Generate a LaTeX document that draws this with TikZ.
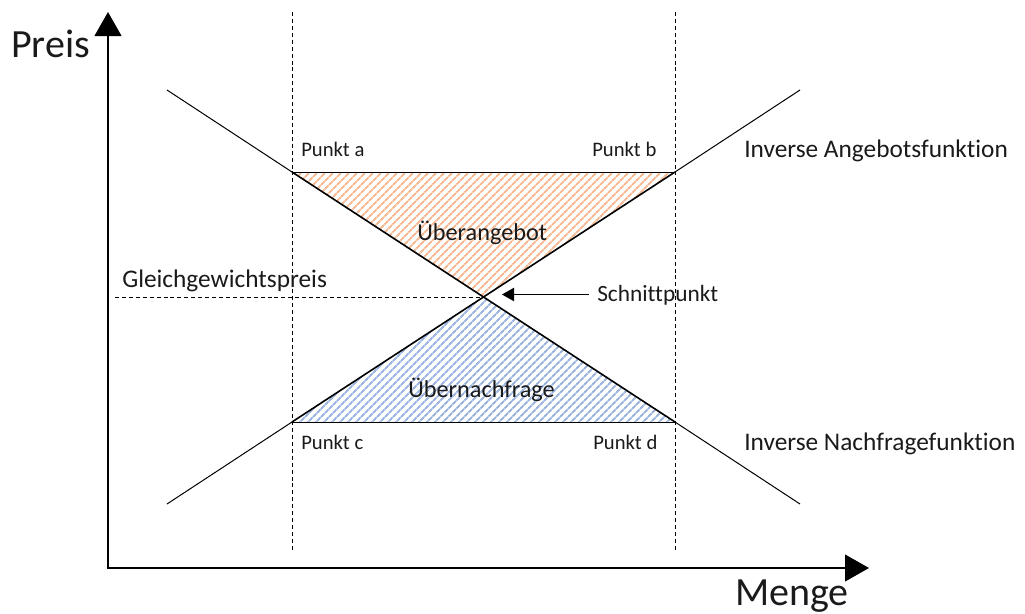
\documentclass[tikz,border=0pt]{standalone}
\usepackage{fontspec}
\setmainfont{Carlito}[Ligatures={NoCommon}]
\usetikzlibrary{arrows.meta,patterns.meta}
\definecolor{txt}{HTML}{1A1A1A}
\definecolor{hatchorange}{HTML}{F6BC96}
\definecolor{hatchblue}{HTML}{9DB6E2}
\tikzset{
  axis/.style={line width=1.7pt, -{Triangle[length=18pt,width=20pt]}},
  guide/.style={dashed, line width=0.7pt, dash pattern=on 3pt off 2.2pt},
  curve/.style={line width=0.75pt},
  edge/.style={line width=1.2pt},
  lbl/.style={anchor=base west, inner sep=0pt, text=txt},
  hatchA/.style={pattern={Lines[angle=45,distance=4pt,line width=1.5pt]}, pattern color=hatchorange},
  hatchN/.style={pattern={Lines[angle=45,distance=4pt,line width=1.5pt]}, pattern color=hatchblue},
}
\begin{document}
\begin{tikzpicture}[x=0.75pt,y=-0.75pt]
\useasboundingbox (0,0) rectangle (1025,614);

% key points of the market diagram
\coordinate (O) at (108,568);
\coordinate (ytip) at (108,12);
\coordinate (xtip) at (869,568);
\coordinate (a) at (292,172);
\coordinate (b) at (675,172);
\coordinate (c) at (292,422);
\coordinate (d) at (675,422);
\coordinate (X) at (483.5,297);
\coordinate (dS) at (167,90);
\coordinate (dE) at (800,504);
\coordinate (sS) at (167,504);
\coordinate (sE) at (800,90);
\coordinate (v1t) at (292,12);
\coordinate (v1b) at (292,550);
\coordinate (v2t) at (675,12);
\coordinate (v2b) at (675,550);
\coordinate (hL) at (115,297);

% hatched areas
\fill[hatchA] (a) -- (b) -- (X) -- cycle;
\fill[hatchN] (c) -- (d) -- (X) -- cycle;

% dashed guides
\draw[guide] (v1t) -- (v1b);
\draw[guide] (v2t) -- (v2b);
\draw[guide] (hL) -- (X);

% inverse demand and supply curves
\draw[curve] (dS) -- (a);
\draw[curve] (d) -- (dE);
\draw[curve] (sS) -- (c);
\draw[curve] (b) -- (sE);
\draw[edge] (a) -- (X) -- (d);
\draw[edge] (c) -- (X) -- (b);
\draw[curve] (a) -- (b);
\draw[curve] (c) -- (d);

% axes
\draw[axis] (O) -- (ytip);
\draw[axis] ([xshift=-1pt]O) -- (xtip);

% labels
\node[lbl, font=\fontsize{30}{30}\selectfont] (preis) at (11,57) {Preis};
\node[lbl, font=\fontsize{30}{30}\selectfont] (menge) at (735,605) {Menge};
\node[lbl, font=\fontsize{15.5}{16}\selectfont] (pa) at (301,156) {Punkt a};
\node[lbl, font=\fontsize{15.5}{16}\selectfont] (pb) at (592,156) {Punkt b};
\node[lbl, font=\fontsize{15.5}{16}\selectfont] (pc) at (301,449) {Punkt c};
\node[lbl, font=\fontsize{15.5}{16}\selectfont] (pd) at (593,449) {Punkt d};
\node[lbl, font=\fontsize{18.2}{19}\selectfont] (ueA) at (417,240) {Überangebot};
\node[lbl, font=\fontsize{18.2}{19}\selectfont] (ueN) at (408,397) {Übernachfrage};
\node[lbl, font=\fontsize{19}{20}\selectfont] (gg) at (122,287) {Gleichgewichtspreis};
\node[lbl, font=\fontsize{17.5}{18}\selectfont] (sp) at (597,301) {Schnittpunkt};
\node[lbl, font=\fontsize{19}{20}\selectfont] (ia) at (744,157) {Inverse Angebotsfunktion};
\node[lbl, font=\fontsize{19}{20}\selectfont] (in) at (744,450) {Inverse Nachfragefunktion};

% pointer to the intersection
\coordinate (spstart) at (589,294.5);
\coordinate (spend) at (502,294.5);
\draw[line width=0.8pt, -{Triangle[length=9pt,width=10pt]}] (spstart) -- (spend);
\end{tikzpicture}
\end{document}
